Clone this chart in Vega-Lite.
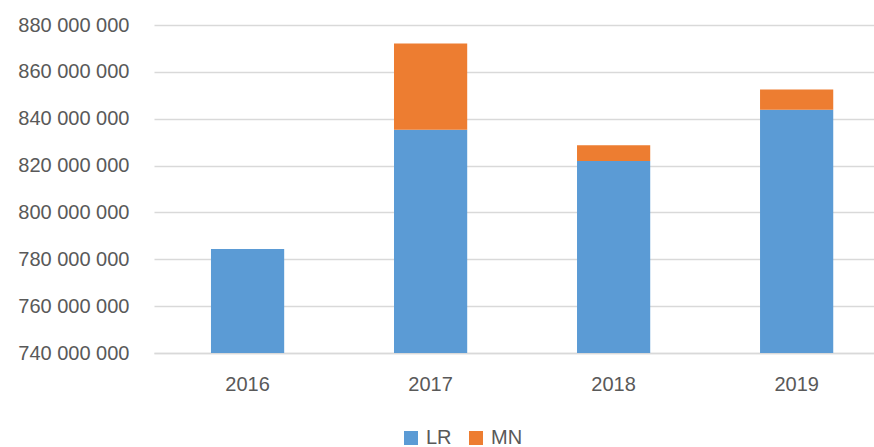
{
  "$schema": "https://vega.github.io/schema/vega-lite/v6.json",
  "width": 720,
  "height": 328,
  "autosize": {"type": "none"},
  "padding": {"left": 154, "top": 25, "right": 0, "bottom": 94},
  "background": "white",
  "config": {
    "view": {"stroke": null},
    "locale": {"number": {"decimal": ",", "thousands": " ", "grouping": [3], "currency": ["", ""]}},
    "font": "Liberation Sans"
  },
  "data": {
    "values": [
      {"year": "2016", "series": "LR", "value": 784400000},
      {"year": "2016", "series": "MN", "value": 0},
      {"year": "2017", "series": "LR", "value": 835300000},
      {"year": "2017", "series": "MN", "value": 36800000},
      {"year": "2018", "series": "LR", "value": 822000000},
      {"year": "2018", "series": "MN", "value": 6700000},
      {"year": "2019", "series": "LR", "value": 843800000},
      {"year": "2019", "series": "MN", "value": 8700000}
    ]
  },
  "mark": {"type": "bar", "clip": true},
  "encoding": {
    "x": {
      "field": "year", "type": "nominal", "title": null,
      "scale": {"paddingInner": 0.6, "paddingOuter": 0.267, "align": 0.583},
      "axis": {
        "labelAngle": 0, "labelFontSize": 20, "labelColor": "#595959",
        "labelPadding": 21, "ticks": false, "domainColor": "#d9d9d9", "domainWidth": 1.5
      }
    },
    "y": {
      "field": "value", "type": "quantitative", "title": null, "stack": "zero",
      "scale": {"domain": [740000000, 880000000], "zero": false, "nice": false},
      "axis": {
        "values": [740000000, 760000000, 780000000, 800000000, 820000000, 840000000, 860000000, 880000000],
        "format": ",d", "labelFontSize": 20, "labelColor": "#595959", "labelPadding": 25,
        "ticks": false, "domain": false, "gridColor": "#d9d9d9", "gridWidth": 1.5
      }
    },
    "color": {
      "field": "series", "type": "nominal",
      "scale": {"domain": ["LR", "MN"], "range": ["#5B9BD5", "#ED7D31"]},
      "legend": {
        "title": null, "orient": "none", "direction": "horizontal",
        "legendX": 247, "legendY": 403, "symbolType": "square", "symbolSize": 196,
        "symbolStrokeWidth": 0, "labelFontSize": 20, "labelColor": "#595959",
        "columnPadding": 14, "labelOffset": 5
      }
    },
    "order": {"field": "series", "sort": "ascending"}
  }
}
